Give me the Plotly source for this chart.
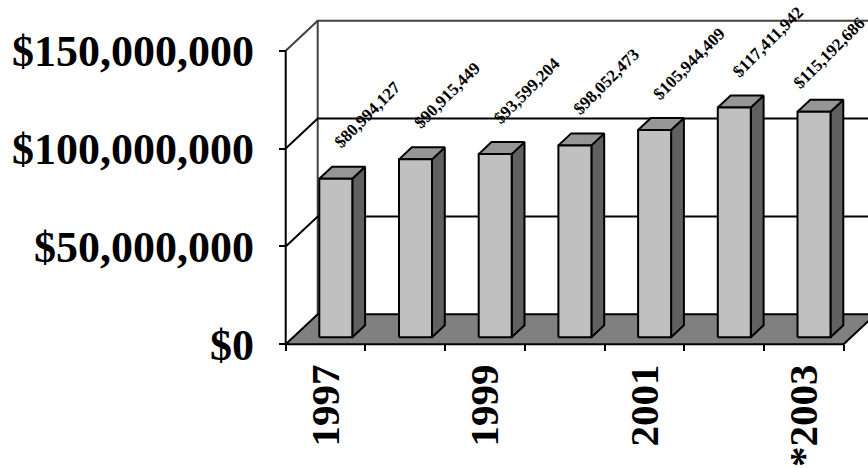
import plotly.graph_objects as go

# Annual totals per year (last year marked as provisional)
years = ["1997", "1998", "1999", "2000", "2001", "2002", "*2003"]
revenue = [80994127, 90915449, 93599204, 98052473, 105944409, 117411942, 115192686]
labelled_years = [0, 2, 4, 6]
y_ticks = [0, 50_000_000, 100_000_000, 150_000_000]
y_tick_text = ["$0", "$50,000,000", "$100,000,000", "$150,000,000"]

# Pseudo-3D geometry, in axis units
N = len(years)
Y_MAX = 150_000_000
DEPTH_X = 0.4015          # horizontal shift from front to back wall (categories)
DEPTH_Y = 15.327e6        # vertical shift from front to back wall (value units)
BAR_LEFT = 0.328
BAR_W = 0.414
BAR_FRONT = 0.233
BAR_BACK = 0.633

FONT = "Liberation Serif"
PLOT_W, PLOT_H = 868, 468


def proj(x, v, d):
    """Project a point at depth d (0 = front, 1 = back wall) onto the axes."""
    return x + d * DEPTH_X, v + d * DEPTH_Y


def polys(shapes):
    xs, ys = [], []
    for pts in shapes:
        for px, py in pts:
            xs.append(px)
            ys.append(py)
        xs.append(pts[0][0])
        ys.append(pts[0][1])
        xs.append(None)
        ys.append(None)
    return xs, ys


def polylines(segments):
    xs, ys = [], []
    for seg in segments:
        for px, py in seg:
            xs.append(px)
            ys.append(py)
        xs.append(None)
        ys.append(None)
    return xs, ys


fig = go.Figure()

# back wall edges
wx, wy = polylines([[proj(0, 0, 1), proj(0, Y_MAX, 1), proj(N, Y_MAX, 1)],
                    [proj(0, Y_MAX, 0), proj(0, Y_MAX, 1)]])
fig.add_trace(go.Scatter(x=wx, y=wy, mode="lines",
                         line=dict(color="#404040", width=2)))

# gridlines across the side and back walls
gx, gy = polylines([[proj(0, v, 0), proj(0, v, 1), proj(N, v, 1)]
                    for v in y_ticks[1:-1]])
fig.add_trace(go.Scatter(x=gx, y=gy, mode="lines",
                         line=dict(color="black", width=2)))

# floor
fx, fy = polys([[proj(0, 0, 0), proj(N, 0, 0), proj(N, 0, 1), proj(0, 0, 1)]])
fig.add_trace(go.Scatter(x=fx, y=fy, mode="lines", fill="toself",
                         fillcolor="#808080", line=dict(color="black", width=2)))

# bars: front, top and side faces
fronts, tops, sides = [], [], []
for i, v in enumerate(revenue):
    xl = i + BAR_LEFT
    xr = xl + BAR_W
    fronts.append([proj(xl, 0, BAR_FRONT), proj(xr, 0, BAR_FRONT),
                   proj(xr, v, BAR_FRONT), proj(xl, v, BAR_FRONT)])
    tops.append([proj(xl, v, BAR_FRONT), proj(xr, v, BAR_FRONT),
                 proj(xr, v, BAR_BACK), proj(xl, v, BAR_BACK)])
    sides.append([proj(xr, 0, BAR_FRONT), proj(xr, 0, BAR_BACK),
                  proj(xr, v, BAR_BACK), proj(xr, v, BAR_FRONT)])

for shapes, color in [(sides, "#606060"), (tops, "#969696"), (fronts, "#C0C0C0")]:
    sx, sy = polys(shapes)
    fig.add_trace(go.Scatter(x=sx, y=sy, mode="lines", fill="toself",
                             fillcolor=color, line=dict(color="black", width=2)))

# front value axis line
ax, ay = polylines([[proj(0, 0, 0), proj(0, Y_MAX, 0)]])
fig.add_trace(go.Scatter(x=ax, y=ay, mode="lines",
                         line=dict(color="black", width=2)))

# carrier for the tick-mark axis
fig.add_trace(go.Scatter(x=[0, N], y=[0, 0], mode="markers",
                         marker=dict(opacity=0), xaxis="x2"))

x_range = [-285.7 / 79.7, (PLOT_W - 285.7) / 79.7]
y_range = [-(PLOT_H - 344.3) / 293.6 * Y_MAX, 344.3 / 293.6 * Y_MAX]
x_pos = 1 - 344.3 / PLOT_H
px_per_cat = PLOT_W / (x_range[1] - x_range[0])

# value labels above each bar; a label that would run past the right edge
# is nudged back inside
LABEL_SIZE = 17
for i, v in enumerate(revenue):
    text = f"${v:,}"
    cx, cy = proj(i + BAR_LEFT + BAR_W / 2, v, BAR_FRONT)
    start_px = (cx - x_range[0]) * px_per_cat - 8
    extent = (len(text) * 0.47 + 0.9) * LABEL_SIZE / 2 ** 0.5
    overflow = max(0.0, start_px + extent - (PLOT_W - 2))
    fig.add_annotation(x=cx, y=cy, text=text, showarrow=False,
                       textangle=-45, xanchor="left", yanchor="bottom",
                       xshift=-8 - overflow, yshift=24 - overflow * 0.4,
                       font=dict(family=FONT, size=LABEL_SIZE, color="black",
                                 weight="bold"))

fig.update_layout(
    width=PLOT_W, height=PLOT_H,
    margin=dict(l=0, r=0, t=0, b=0),
    paper_bgcolor="white", plot_bgcolor="white",
    showlegend=False, hovermode=False,
    xaxis=dict(range=x_range, domain=[0, 1], anchor="free", position=x_pos,
               showgrid=False, zeroline=False, showline=False,
               tickvals=[i + 0.5 for i in labelled_years],
               ticktext=[years[i] for i in labelled_years],
               ticks="", tickangle=-90, ticklabelstandoff=11,
               tickfont=dict(family=FONT, size=41, color="black", weight="bold")),
    xaxis2=dict(range=x_range, domain=[0, 1], overlaying="x", anchor="free",
                position=x_pos, side="bottom",
                showgrid=False, zeroline=False, showline=False,
                tickvals=list(range(N + 1)), showticklabels=False,
                ticks="outside", ticklen=6, tickwidth=2, tickcolor="black"),
    yaxis=dict(range=y_range, domain=[0, 1], anchor="free", position=285.7 / PLOT_W,
               showgrid=False, zeroline=False, showline=False,
               tickvals=y_ticks, ticktext=y_tick_text,
               ticks="outside", ticklen=7, tickwidth=2, tickcolor="black",
               ticklabelstandoff=16,
               tickfont=dict(family=FONT, size=44, color="black", weight="bold")),
)

fig.write_html("out.html")
